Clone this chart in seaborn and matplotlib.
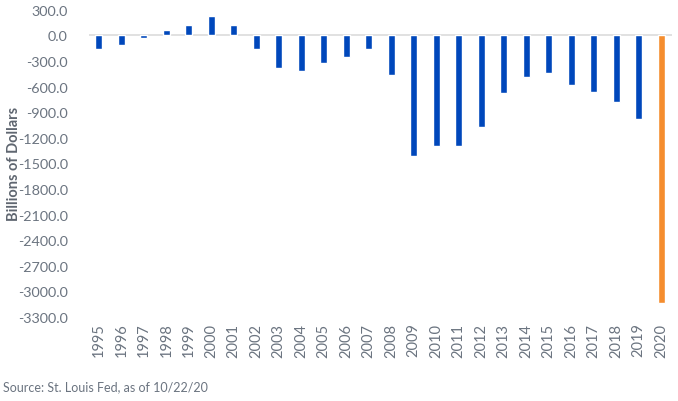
import matplotlib
matplotlib.use("Agg")
import matplotlib.pyplot as plt
import seaborn as sns
import pandas as pd

years = [str(y) for y in range(1995, 2021)]
deficit = [-164, -110, -30, 65, 124, 230, 124, -158, -380, -415, -318, -248, -161,
           -459, -1413, -1294, -1300, -1077, -680, -485, -442, -585, -665, -779, -984, -3132]
bar_colors = ["#0047BB"] * 25 + ["#F58D2E"]
y_ticks = [300 - 300 * i for i in range(13)]

sns.set_theme(style="white")
plt.rcParams['font.family'] = ['Lato', 'DejaVu Sans']

df = pd.DataFrame({"year": years, "value": deficit})

fig = plt.figure(figsize=(6.78, 4.02), dpi=100)
ax = fig.add_axes([0.131, 0.209, 0.860, 0.764])
sns.barplot(data=df, x="year", y="value", hue="year", palette=bar_colors,
            width=0.32, legend=False, ax=ax, saturation=1)

ax.set_ylim(-3300, 300)
ax.set_yticks(y_ticks)
ax.set_yticklabels([f"{v:.1f}" for v in y_ticks], color="#6b7480", fontsize=10.4)
ax.set_xlim(-0.444, 25.47)
ax.tick_params(axis="x", labelrotation=90, labelsize=10.5, labelcolor="#6b7480", length=0, pad=4)
ax.tick_params(axis="y", length=0, pad=15)
for s in ax.spines.values():
    s.set_visible(False)
ax.axhline(0, color="#dcdcdc", lw=1.2, zorder=0)
ax.set_xlabel("")
ax.set_ylabel("Billions of Dollars", fontsize=10.5, fontweight="bold", color="#5f6670")
ax.yaxis.set_label_coords(-0.117, 0.5)

fig.text(0.005, 0.028, "Source: St. Louis Fed, as of 10/22/20", fontsize=9, color="#6b7480")

fig.savefig("out.png", dpi=100)
